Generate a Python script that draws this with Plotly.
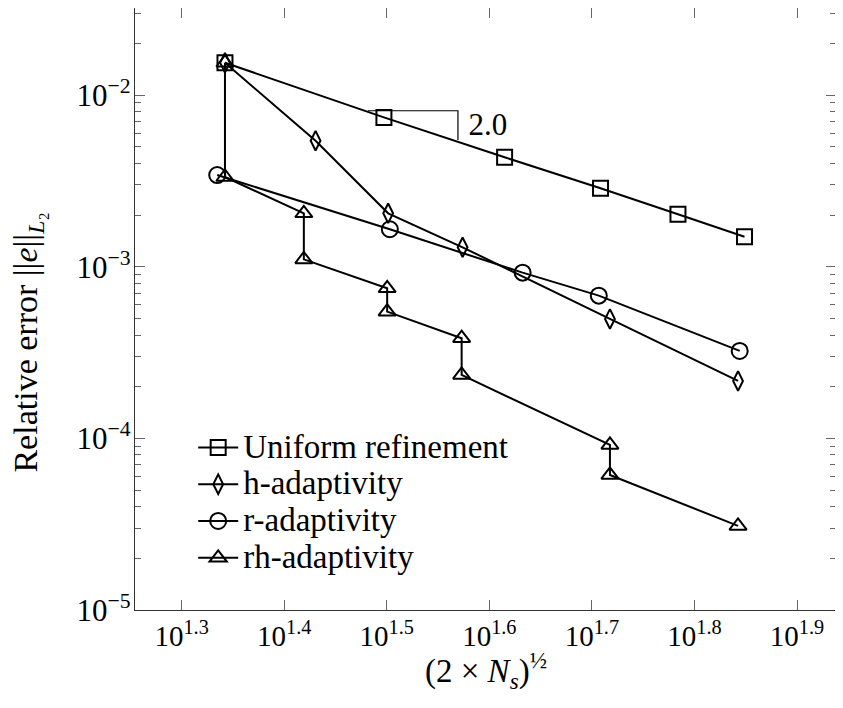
import plotly.graph_objects as go

# ---- data ----
x_uniform = [21.99, 31.42, 41.2, 51.1, 60.8, 70.6]
err_uniform = [0.01542, 0.00741, 0.004337, 0.002861, 0.002019, 0.001495]

x_h = [21.99, 26.95, 31.72, 37.49, 52.19, 69.58]
err_h = [0.01542, 0.005418, 0.002046, 0.001297, 0.000496, 0.000216]

x_r = [21.61, 31.84, 42.9, 50.9, 69.84]
err_r = [0.00342, 0.001652, 0.000923, 0.000678, 0.000323]

x_rh = [21.99, 21.99, 26.25, 26.25, 31.65, 31.65, 37.41, 37.41, 52.19, 52.19, 69.58]
err_rh = [0.01542, 0.00333, 0.002046, 0.001103, 0.000748, 0.000547,
          0.000383, 0.000234, 9.15e-5, 6.12e-5, 3.09e-5]

slope_x = [30.3, 37.1, 37.1]
slope_err = [0.0081, 0.0081, 0.00547]
slope_label = "2.0"
slope_label_x = [38.0]
slope_label_err = [0.00651]

series_names = ["Uniform refinement", "h-adaptivity", "r-adaptivity", "rh-adaptivity"]

x_tick_exps = ["1.3", "1.4", "1.5", "1.6", "1.7", "1.8", "1.9"]
y_tick_exps = [-5, -4, -3, -2]

x_title = "(2 \u00d7 <i>N</i><sub><i>s</i></sub>)<sup>\u00bd</sup>"
y_title = "Relative error ||<i>e</i>||<sub><i>L</i>\u2082</sub>"

FONT = "Liberation Serif"
BLACK = "#000000"

fig = go.Figure()

def add_series(x, y, name, symbol, size):
    fig.add_trace(go.Scatter(
        x=x, y=y, mode="lines+markers",
        name="<span style='font-size:33px'>%s</span>" % name,
        line=dict(color=BLACK, width=2),
        marker=dict(symbol=symbol, size=size, color=BLACK,
                    line=dict(color=BLACK, width=2)),
    ))

add_series(x_uniform, err_uniform, series_names[0], "square-open", 15)
add_series(x_h, err_h, series_names[1], "diamond-tall-open", 14)
add_series(x_r, err_r, series_names[2], "circle-open", 16)
add_series(x_rh, err_rh, series_names[3], "triangle-up-open", 15)

# slope triangle
fig.add_trace(go.Scatter(
    x=slope_x, y=slope_err, mode="lines", showlegend=False,
    line=dict(color=BLACK, width=1.2), hoverinfo="skip"))
fig.add_trace(go.Scatter(
    x=slope_label_x, y=slope_label_err, mode="text", text=[slope_label],
    textposition="middle right", showlegend=False,
    textfont=dict(family=FONT, size=31, color=BLACK), hoverinfo="skip"))

x_tickvals = [10 ** float(e) for e in x_tick_exps]
x_ticktext = ["10<sup>%s</sup>" % e for e in x_tick_exps]
y_tickvals = [10.0 ** e for e in y_tick_exps]
y_ticktext = ["10<sup>\u2212%d</sup>" % (-e) for e in y_tick_exps]
y_minor = [m * 10.0 ** e for e in range(-5, -2) for m in range(2, 10)] + [0.02, 0.03]

axis_common = dict(
    type="log", showgrid=False, zeroline=False, automargin=False,
    showline=True, linecolor="#333333", linewidth=1.2, mirror="allticks",
    ticks="inside", ticklen=10, tickwidth=1, tickcolor="#666666",
)

fig.update_xaxes(
    **axis_common,
    range=[1.2545, 1.938],
    tickmode="array", tickvals=x_tickvals, ticktext=x_ticktext,
    tickfont=dict(family=FONT, size=29, color=BLACK),
    ticklabelstandoff=0,
)
fig.update_yaxes(
    **axis_common,
    range=[-5, -1.493],
    tickmode="array", tickvals=y_tickvals, ticktext=y_ticktext,
    tickfont=dict(family=FONT, size=31, color=BLACK),
    ticklabelstandoff=-3,
    minor=dict(tickmode="array", tickvals=y_minor, ticks="inside", ticklen=6,
               tickcolor="#666666", tickwidth=1, showgrid=False),
)

fig.add_annotation(text=x_title, xref="paper", yref="paper",
                   x=0.5, y=-0.101, xanchor="center", yanchor="middle",
                   showarrow=False, font=dict(family=FONT, size=33, color=BLACK))
fig.add_annotation(text=y_title, xref="paper", yref="paper", textangle=-90,
                   x=-0.152, y=0.445, xanchor="center", yanchor="middle",
                   showarrow=False, font=dict(family=FONT, size=34, color=BLACK))

fig.update_layout(
    width=835, height=700,
    margin=dict(l=127, r=7, t=0, b=98),
    paper_bgcolor="white", plot_bgcolor="white",
    showlegend=True,
    legend=dict(x=0.083, y=0.309, xanchor="left", yanchor="top",
                bgcolor="rgba(0,0,0,0)", borderwidth=0,
                font=dict(family=FONT, size=26, color=BLACK),
                itemwidth=40, tracegroupgap=0),
)

fig.write_html("out.html")
